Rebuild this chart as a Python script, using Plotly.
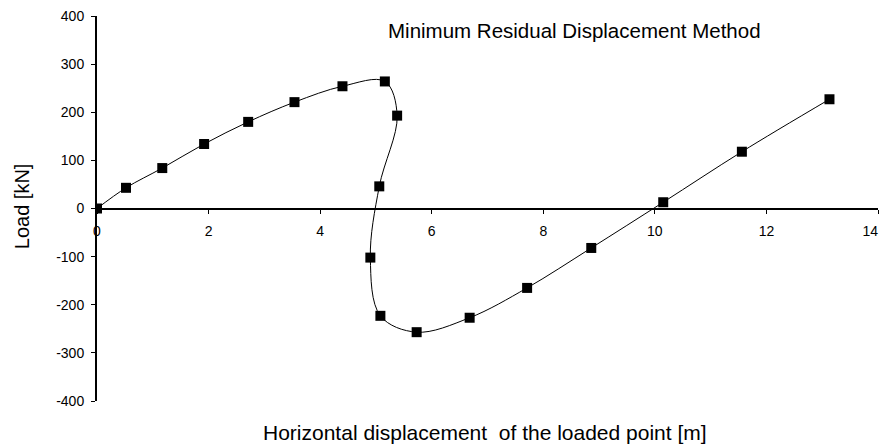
import plotly.graph_objects as go

# ---------------------------- data ----------------------------

disp = [0, 0.52, 1.17, 1.92, 2.71, 3.54, 4.40, 5.16, 5.38, 5.06,
        4.90, 5.08, 5.73, 6.68, 7.71, 8.86, 10.15, 11.56, 13.13]
load = [0, 43, 84, 134, 180, 221, 254, 264, 193, 46,
        -102, -223, -257, -227, -165, -82, 13, 118, 227]

x_ticks = [0, 2, 4, 6, 8, 10, 12, 14]
# the last label sits a little left of its tick, like in the original
x_labels = ["0", "2", "4", "6", "8", "10", "12", "14\u00a0\u00a0\u00a0\u00a0"]
y_ticks = [-400, -300, -200, -100, 0, 100, 200, 300, 400]
y_labels = ["-400", "-300", "-200", "-100", "0", "100", "200", "300", "400"]

chart_title = "Minimum Residual Displacement Method"
x_title = "Horizontal displacement  of the loaded point [m]"
y_title = "Load [kN]"

font = "Liberation Sans, Arial, sans-serif"

# ---------------------------- figure ----------------------------
# note: the page body has an 8px margin, so margins are shifted by 8

fig = go.Figure()

fig.add_trace(go.Scatter(
    x=disp, y=load,
    mode="lines+markers",
    line=dict(color="black", width=1, shape="spline", smoothing=1),
    marker=dict(symbol="square", size=10, color="black"),
    showlegend=False,
))

fig.update_layout(
    width=887, height=448,
    margin=dict(l=89, r=17, t=8, b=55, autoexpand=False),
    paper_bgcolor="white", plot_bgcolor="white",
    font=dict(family=font, color="black", size=14),
    xaxis=dict(
        range=[0, 14], tickvals=x_ticks, ticktext=x_labels,
        showgrid=False, zeroline=False,
        showline=True, linecolor="black", linewidth=2,
        ticks="outside", ticklen=4, tickwidth=1, tickcolor="black",
        anchor="free", position=0.5, automargin=False,
        ticklabelstandoff=6, ticklabeloverflow="allow",
        tickfont=dict(size=14),
    ),
    yaxis=dict(
        range=[-400, 400], tickvals=y_ticks, ticktext=y_labels,
        showgrid=False, zeroline=False,
        showline=True, linecolor="black", linewidth=2,
        ticks="outside", ticklen=4, tickwidth=1, tickcolor="black",
        automargin=False, ticklabelstandoff=4, ticklabeloverflow="allow",
        tickfont=dict(size=14),
    ),
    annotations=[
        dict(text=chart_title, xref="paper", yref="paper", x=0.611, y=0.9636,
             xanchor="center", yanchor="middle", showarrow=False,
             font=dict(size=20.5)),
        dict(text=x_title, xref="paper", yref="paper", x=0.497, y=-0.083,
             xanchor="center", yanchor="middle", showarrow=False,
             font=dict(size=21)),
        dict(text=y_title, xref="paper", yref="paper", x=-0.096, y=0.506,
             xanchor="center", yanchor="middle", showarrow=False,
             textangle=-90, font=dict(size=20)),
    ],
)

fig.write_html("out.html")
